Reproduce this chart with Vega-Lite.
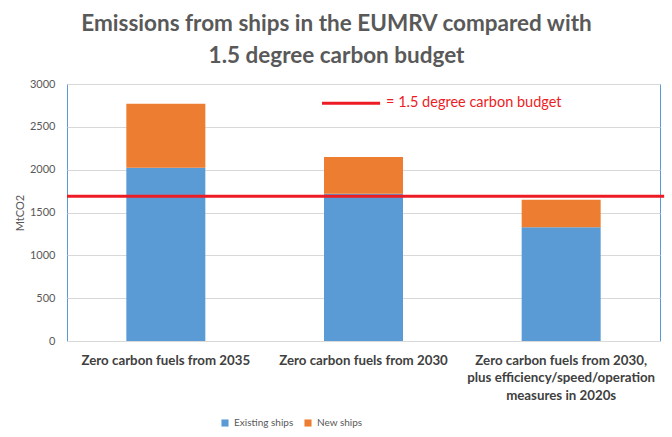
{
  "$schema": "https://vega.github.io/schema/vega-lite/v6.json",
  "width": 593,
  "height": 257,
  "autosize": {"type": "none"},
  "padding": {"left": 67, "top": 84, "right": 12, "bottom": 96},
  "background": "white",
  "title": {
    "text": ["Emissions from ships in the EUMRV compared with", "1.5 degree carbon budget"],
    "font": "Lato",
    "fontSize": 22.5,
    "fontWeight": "bold",
    "color": "#595959",
    "lineHeight": 32,
    "anchor": "middle",
    "frame": "group",
    "dx": -27,
    "offset": 11
  },
  "datasets": {
    "emissions": [
      {"scenario": "Zero carbon fuels from 2035", "fleet": "Existing ships", "MtCO2": 2023},
      {"scenario": "Zero carbon fuels from 2035", "fleet": "New ships", "MtCO2": 747},
      {"scenario": "Zero carbon fuels from 2030", "fleet": "Existing ships", "MtCO2": 1720},
      {"scenario": "Zero carbon fuels from 2030", "fleet": "New ships", "MtCO2": 428},
      {"scenario": "Zero carbon fuels from 2030, plus efficiency/speed/operation measures in 2020s", "fleet": "Existing ships", "MtCO2": 1327},
      {"scenario": "Zero carbon fuels from 2030, plus efficiency/speed/operation measures in 2020s", "fleet": "New ships", "MtCO2": 323}
    ],
    "budget": [
      {"label": "= 1.5 degree carbon budget", "MtCO2": 1690}
    ]
  },
  "layer": [
    {
      "data": {"name": "emissions"},
      "mark": {"type": "bar", "width": 79},
      "encoding": {
        "x": {
          "field": "scenario",
          "type": "nominal",
          "sort": null,
          "title": null,
          "scale": {"paddingInner": 0.6, "paddingOuter": 0.3},
          "axis": {
            "labelAngle": 0,
            "labelFont": "Lato",
            "labelFontSize": 13.3,
            "labelFontWeight": "bold",
            "labelColor": "#404040",
            "labelPadding": 12,
            "labelLineHeight": 17.5,
            "labelLimit": 300,
            "ticks": false,
            "domainColor": "#d9d9d9",
            "labelExpr": "datum.value == 'Zero carbon fuels from 2030, plus efficiency/speed/operation measures in 2020s' ? ['Zero carbon fuels from 2030,', 'plus efficiency/speed/operation', 'measures in 2020s'] : datum.value"
          }
        },
        "y": {
          "field": "MtCO2",
          "type": "quantitative",
          "title": "MtCO2",
          "scale": {"domain": [0, 3000]},
          "axis": {
            "values": [0, 500, 1000, 1500, 2000, 2500, 3000],
            "format": "d",
            "labelFont": "Lato",
            "labelFontSize": 11,
            "labelColor": "#595959",
            "labelPadding": 12,
            "ticks": false,
            "domain": false,
            "gridColor": "#d9d9d9",
            "titleFont": "Lato",
            "titleFontSize": 11,
            "titleFontWeight": "normal",
            "titleColor": "#595959",
            "titlePadding": 4
          }
        },
        "color": {
          "field": "fleet",
          "type": "nominal",
          "scale": {"domain": ["Existing ships", "New ships"], "range": ["#5b9bd5", "#ed7d31"]},
          "legend": {
            "title": null,
            "orient": "none",
            "direction": "horizontal",
            "legendX": 153,
            "legendY": 334,
            "symbolType": "square",
            "symbolSize": 50,
            "labelFont": "Lato",
            "labelFontSize": 10,
            "labelColor": "#595959",
            "labelOffset": 4,
            "columnPadding": 9
          }
        },
        "order": {"field": "fleet", "sort": "ascending"}
      }
    },
    {
      "data": {"name": "budget"},
      "mark": {"type": "rule", "color": "#ed1c24", "strokeWidth": 3, "clip": false},
      "encoding": {
        "x": {"datum": 0, "type": "quantitative", "scale": {"domain": [0, 1]}, "axis": null},
        "x2": {"datum": 1.007},
        "y": {"field": "MtCO2", "type": "quantitative"}
      }
    },
    {
      "data": {"name": "budget"},
      "mark": {"type": "rule", "color": "#ed1c24", "strokeWidth": 3},
      "encoding": {
        "x": {"datum": 0.43, "type": "quantitative", "scale": {"domain": [0, 1]}, "axis": null},
        "x2": {"datum": 0.528},
        "y": {"datum": 2775}
      }
    },
    {
      "data": {"name": "budget"},
      "mark": {"type": "text", "color": "#ed1c24", "font": "Lato", "fontSize": 14.5, "align": "left", "baseline": "middle"},
      "encoding": {
        "x": {"datum": 0.538, "type": "quantitative", "scale": {"domain": [0, 1]}, "axis": null},
        "y": {"datum": 2775},
        "text": {"field": "label"}
      }
    }
  ],
  "resolve": {"scale": {"x": "independent"}},
  "config": {
    "view": {"stroke": "#5b9bd5", "strokeWidth": 1}
  }
}
